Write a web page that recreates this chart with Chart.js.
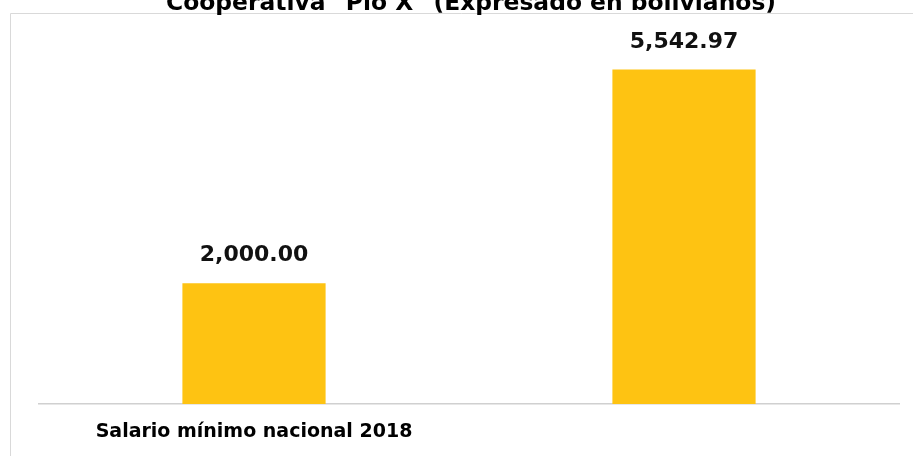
<!DOCTYPE html>
<html>
<head>
<meta charset="utf-8">
<script src="https://cdn.jsdelivr.net/npm/chart.js@4/dist/chart.umd.min.js"></script>
<style>
  html, body { margin: 0; padding: 0; background: #ffffff; }
  #wrap { width: 913px; height: 456px; position: relative; }
</style>
</head>
<body>
<div id="wrap"><canvas id="c" width="913" height="456"></canvas></div>
<script>
const titleText = 'Cooperativa "Pío X" (Expresado en bolivianos)';
const categories = ['Salario mínimo nacional 2018', ''];
const values = [2000.00, 5542.97];
const barColor = '#FEC312';

const fmt = v => v.toLocaleString('en-US', { minimumFractionDigits: 2, maximumFractionDigits: 2 });

// Frame, heading (clipped at the top edge) and value labels
const decor = {
  id: 'decor',
  beforeDraw(chart) {
    const ctx = chart.ctx;
    ctx.save();
    ctx.strokeStyle = '#D9D9D9';
    ctx.lineWidth = 1;
    ctx.beginPath();
    ctx.moveTo(10.5, 456);
    ctx.lineTo(10.5, 13.5);
    ctx.lineTo(913, 13.5);
    ctx.stroke();
    ctx.fillStyle = '#000';
    ctx.font = 'bold 23.4px "DejaVu Sans", Verdana, sans-serif';
    ctx.textAlign = 'center';
    ctx.textBaseline = 'alphabetic';
    ctx.fillText(titleText, 471, 10);
    ctx.restore();
  },
  afterDatasetsDraw(chart) {
    const ctx = chart.ctx;
    const meta = chart.getDatasetMeta(0);
    ctx.save();
    ctx.fillStyle = '#111';
    ctx.font = 'bold 22px "DejaVu Sans", Verdana, sans-serif';
    ctx.textAlign = 'center';
    ctx.textBaseline = 'alphabetic';
    meta.data.forEach((bar, i) => {
      ctx.fillText(fmt(values[i]), bar.x, bar.y - 22);
    });
    ctx.restore();
  }
};

new Chart(document.getElementById('c'), {
  type: 'bar',
  data: {
    labels: categories,
    datasets: [{
      data: values,
      backgroundColor: barColor,
      borderWidth: 0,
      categoryPercentage: 1,
      barPercentage: 0.333
    }]
  },
  options: {
    responsive: false,
    animation: false,
    layout: { padding: { top: 42, left: 39, right: 14, bottom: 12 } },
    plugins: { legend: { display: false }, tooltip: { enabled: false }, title: { display: false } },
    scales: {
      x: {
        grid: { display: false },
        border: { display: true, color: '#D0D0D0', width: 1.5 },
        afterFit(scale) { scale.height = 40; },
        ticks: {
          color: '#000',
          padding: 9,
          maxRotation: 0,
          autoSkip: false,
          font: { family: '"DejaVu Sans", Verdana, sans-serif', weight: 'bold', size: 19 }
        }
      },
      y: {
        display: false,
        min: 0,
        max: 6000
      }
    }
  },
  plugins: [decor]
});
</script>
</body>
</html>
